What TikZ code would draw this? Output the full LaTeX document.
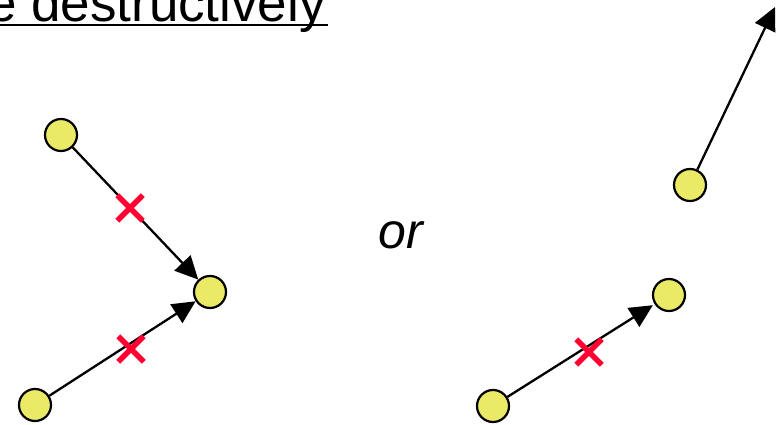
\documentclass[tikz,border=0pt]{standalone}
\usepackage{fontspec}
\setmainfont{Liberation Sans}
\usepackage{tikz}
\usetikzlibrary{arrows.meta, positioning, shapes.misc}
\definecolor{dotyellow}{RGB}{234, 234, 102}
\definecolor{blockred}{RGB}{255, 0, 51}
\tikzset{
    particle/.style={circle, draw=black, fill=dotyellow, line width=2.2pt, minimum size=32pt, inner sep=0pt},
    hop/.style={-{Triangle[length=23pt, width=22pt]}, line width=2.3pt},
    blocked/.style={cross out, draw=blockred, line width=5.5pt, minimum size=20pt, inner sep=0pt},
}

\begin{document}
\begin{tikzpicture}[x=1pt, y=-1pt]
    \useasboundingbox (0, 0) rectangle (778, 425);
    \clip (0, 0) rectangle (778, 425);

    \node[anchor=base east, inner sep=0pt, font=\fontsize{53}{62}\selectfont] (title) at (326, 22) {e destructively};
    \draw[line width=2.6pt] ([yshift=-3pt]title.base west) -- ([yshift=-3pt, xshift=2pt]title.base east);

    % left: both hops blocked
    \node[particle] (a1) at (61, 135) {};
    \node[particle] (a2) at (210, 292) {};
    \node[particle] (a3) at (35, 405) {};
    \draw[hop] (a1) -- (a2);
    \draw[hop] (a3) -- (a2);
    \node[blocked] (x1) at (130, 208) {};
    \node[blocked] (x2) at (131, 349) {};

    \node[anchor=base, font=\fontsize{50}{60}\selectfont\itshape] (or) at (401, 248) {or};

    % right: one blocked, one free
    \node[particle] (b1) at (690, 185) {};
    \coordinate (b1out) at (775, 7);
    \draw[hop] (b1) -- (b1out);
    \node[particle] (b2) at (669, 295) {};
    \node[particle] (b3) at (493, 406) {};
    \draw[hop, shorten >=2pt] (b3) -- (b2);
    \node[blocked] (x3) at (589, 352) {};
\end{tikzpicture}
\end{document}
